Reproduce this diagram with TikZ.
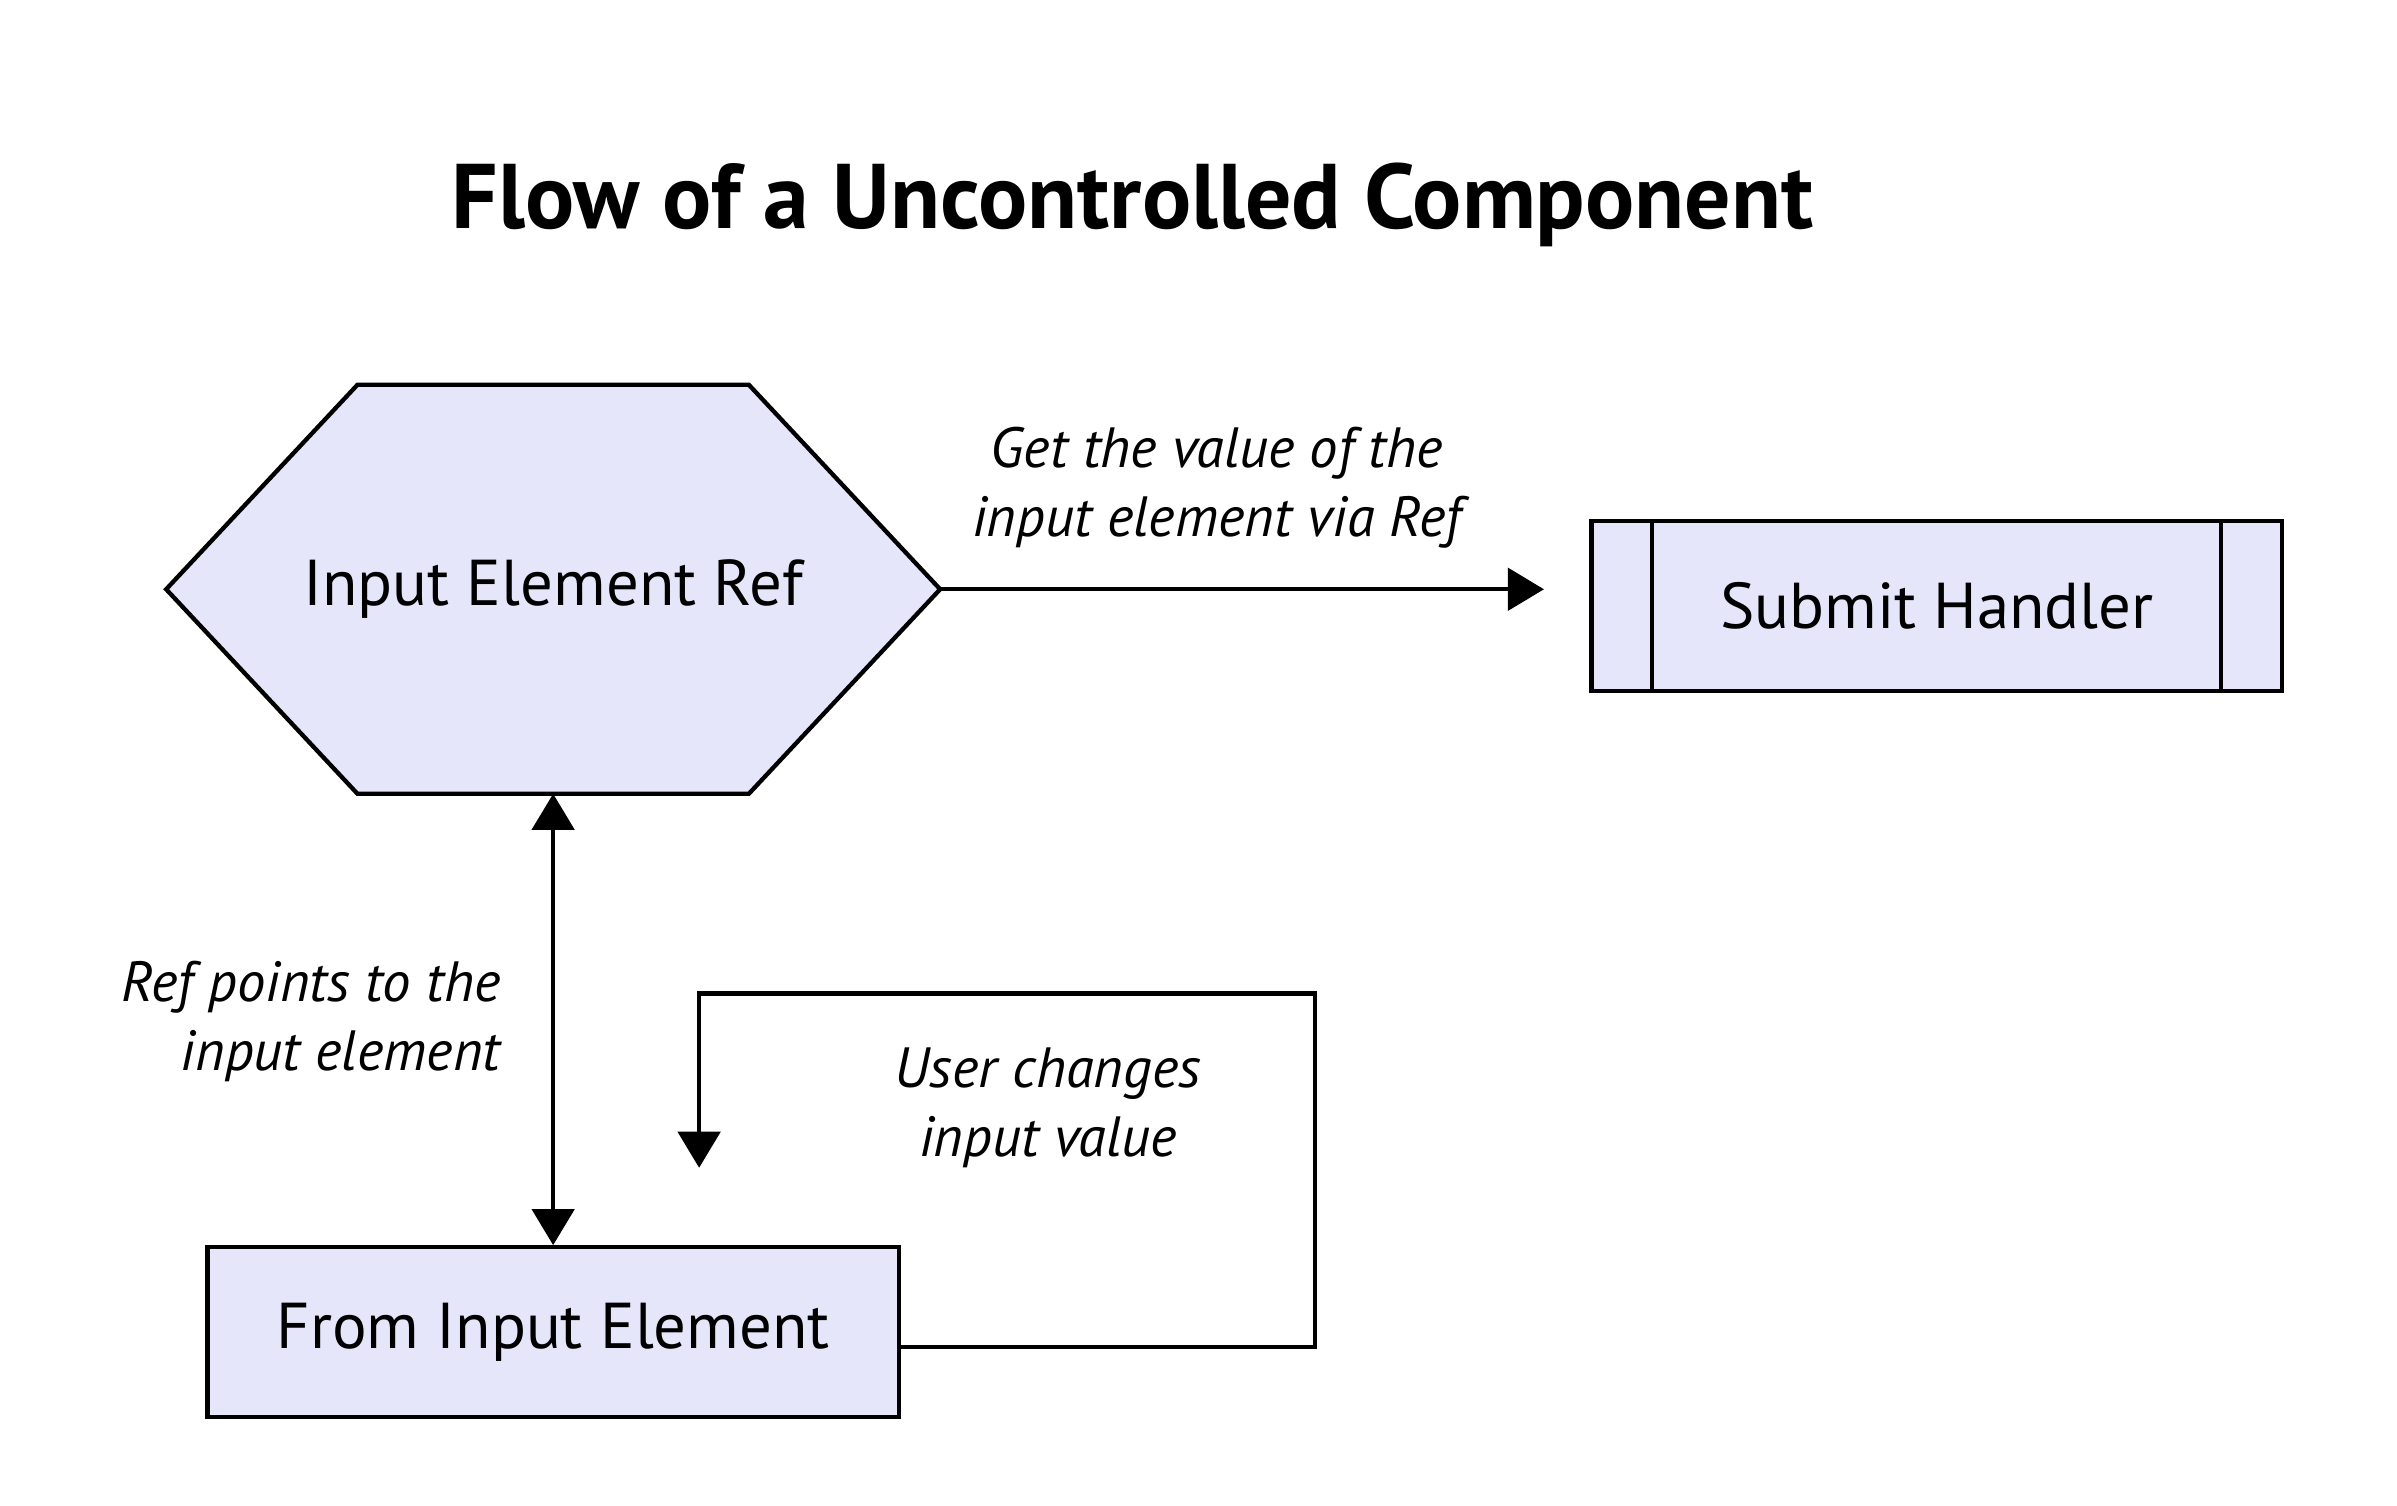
\documentclass[tikz,border=0pt]{standalone}
\usepackage{fontspec}
\setmainfont{PT Sans}
\usetikzlibrary{positioning, arrows.meta, backgrounds}
\definecolor{boxfill}{HTML}{E6E6FA}
\tikzset{
>={Triangle[length=0.47cm, width=0.55cm]}, % big filled arrow heads
flow/.style={->, line width=1.6pt}, % connectors between the parts
block/.style={draw, line width=1.6pt, fill=boxfill, minimum width=9cm, minimum height=2.21cm, inner sep=0pt, font=\fontsize{24}{29}\selectfont}, % plain boxes
hexlabel/.style={minimum width=10.06cm, minimum height=5.31cm, inner sep=0pt, font=\fontsize{24}{29}\selectfont}, % text of the hexagon
hexbox/.style={draw, line width=1.6pt, fill=boxfill}, % outline of the hexagon
note/.style={font=\fontsize{21}{25.6}\selectfont\itshape, align=center, inner sep=0pt}, % edge labels
}
\begin{document}
\begin{tikzpicture}
\useasboundingbox (0,0) rectangle (31.2,-19.59);
\node[font=\fontsize{34}{40}\selectfont\bfseries, anchor=base] (title) at (14.74,-2.98) {Flow of a Uncontrolled Component};

\node[hexlabel] (ref) at (7.2,-7.67) {Input Element Ref};
\node[block, minimum width=8.99cm] (submit) at (25.21,-7.89) {Submit Handler};
\node[block, below of=ref, node distance=9.67cm] (from) {From Input Element};

% hexagon behind its text
\begin{pgfonlayer}{background}
\draw[hexbox] (ref.west) -- ([xshift=2.49cm]ref.north west) -- ([xshift=-2.49cm]ref.north east) -- (ref.east)
  -- ([xshift=-2.49cm]ref.south east) -- ([xshift=2.49cm]ref.south west) -- cycle;
\end{pgfonlayer}

% side bars of the handler
\draw[line width=1.6pt] ([xshift=0.82cm]submit.north west) -- ([xshift=0.82cm]submit.south west);
\draw[line width=1.6pt] ([xshift=-0.82cm]submit.north east) -- ([xshift=-0.82cm]submit.south east);

\coordinate (loopturn) at (17.12,-12.93);
\coordinate (loopend) at (9.1,-15.2);

\draw[flow] (ref.east) -- ([xshift=-0.59cm]ref.east -| submit.west);
\draw[flow, <->] (ref.south) -- (from.north);
\draw[flow] ([yshift=-0.19cm]from.east) -| (loopturn) -- (loopturn -| loopend) -- (loopend);

\node[note] (getlbl) at (15.84,-6.35) {Get the value of the\\input element via Ref};
\node[note, align=right, anchor=east] (reflbl) at (6.52,-13.3) {Ref points to the\\input element};
\node[note] (userlbl) at (13.64,-14.42) {User changes\\input value};
\end{tikzpicture}
\end{document}
